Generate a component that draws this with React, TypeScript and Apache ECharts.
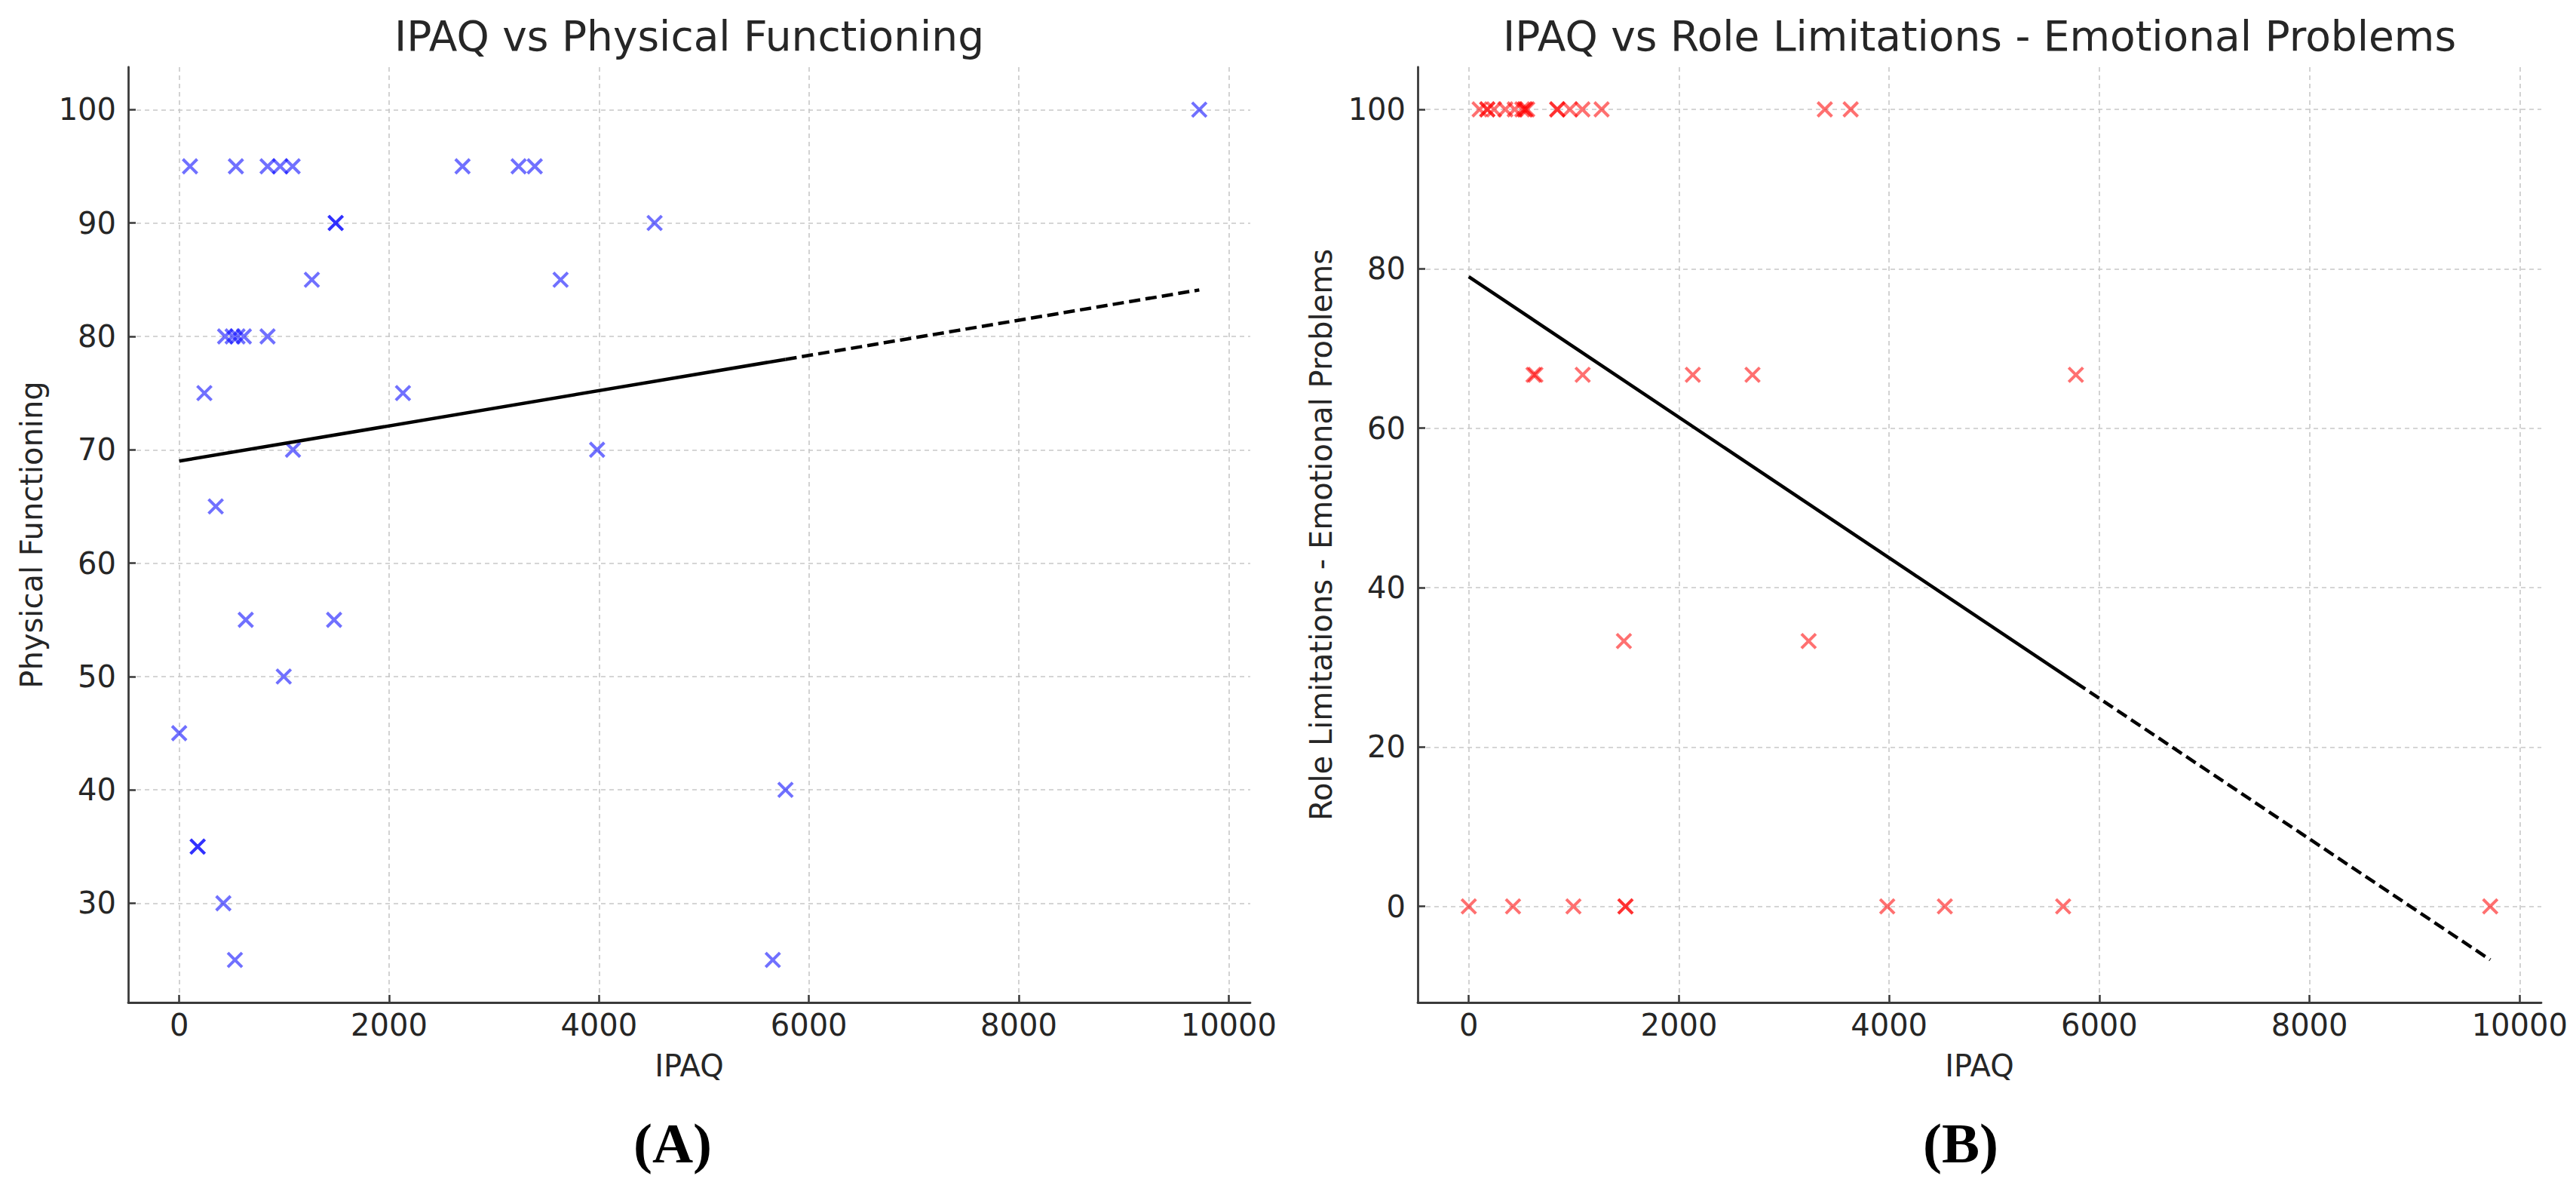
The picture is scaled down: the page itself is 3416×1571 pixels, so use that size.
import React, { useEffect, useRef } from "react";
import * as echarts from "echarts";

// IPAQ score of each participant (shared by both panels)
const ipaq = [0, 103, 176, 176, 240, 348, 421, 437, 509, 531, 540, 556, 616, 634, 842, 842, 962, 996, 1081, 1084, 1264, 1476, 1491, 1491, 2132, 2700, 3234, 3388, 3634, 3982, 4530, 5656, 5777, 9720];
// Panel A values
const physicalFunctioning = [45, 95, 35, 35, 75, 65, 30, 80, 80, 25, 95, 80, 80, 55, 95, 80, 95, 50, 95, 70, 85, 55, 90, 90, 75, 95, 95, 95, 85, 70, 90, 25, 40, 100];
// Panel B values
const roleEmotional = [0, 100, 100, 100, 100, 100, 0, 100, 100, 100, 100, 100, 66.7, 66.7, 100, 100, 100, 0, 100, 66.7, 100, 33.3, 0, 0, 66.7, 66.7, 33.3, 100, 100, 0, 0, 0, 66.7, 0];

// tick labels
const xTicks = [0, 2000, 4000, 6000, 8000, 10000];
const pfTicks = [30, 40, 50, 60, 70, 80, 90, 100];
const reTicks = [0, 20, 40, 60, 80, 100];

// fitted trend line values at the smallest and largest IPAQ
const pfTrendEnds = [69.0, 84.1];
const reTrendEnds = [79.0, -6.7];

const titles = ["IPAQ vs Physical Functioning", "IPAQ vs Role Limitations - Emotional Problems"];
const yNames = ["Physical Functioning", "Role Limitations - Emotional Problems"];
const xName = "IPAQ";
const panelLabels = ["(A)", "(B)"];

const XMARK = "path://M0,0L10,10M10,0L0,10";
const FONT = "DejaVu Sans";

function trendSegments(ends: number[]) {
  const sorted = [...ipaq].sort((a, b) => a - b);
  const x0 = sorted[0];
  const x1 = sorted[sorted.length - 2];
  const x2 = sorted[sorted.length - 1];
  const f = (x: number) => ends[0] + ((ends[1] - ends[0]) * (x - x0)) / (x2 - x0);
  return {
    solid: [[x0, f(x0)], [x1, f(x1)]],
    dashed: [[x1, f(x1)], [x2, f(x2)]],
  };
}

export default function App() {
  const ref = useRef<HTMLDivElement>(null);
  useEffect(() => {
    if (!ref.current) return;
    const chart = echarts.init(ref.current, undefined, { renderer: "svg" });
    const axisColor = "#3a3a3a";
    const gridLine = { show: true, lineStyle: { color: "#c8c8c8", width: 1.6, type: [6, 5] as any } };
    const plain = (v: number) => String(v);
    const mkX = (gi: number) => ({
      type: "value",
      gridIndex: gi,
      min: -486,
      max: 10206,
      axisLine: { show: true, onZero: false, lineStyle: { color: axisColor, width: 2.8 } },
      axisTick: { show: true, inside: true, length: 10, lineStyle: { color: axisColor, width: 2.5 }, customValues: xTicks },
      axisLabel: { customValues: xTicks, formatter: plain, margin: 10, fontSize: 40, fontFamily: FONT, color: "#262626" },
      splitLine: gridLine,
    });
    const mkY = (gi: number, min: number, max: number, ticks: number[]) => ({
      type: "value",
      gridIndex: gi,
      min,
      max,
      axisLine: { show: true, onZero: false, lineStyle: { color: axisColor, width: 2.8 } },
      axisTick: { show: true, inside: true, length: 10, lineStyle: { color: axisColor, width: 2.5 }, customValues: ticks },
      axisLabel: { customValues: ticks, formatter: plain, margin: 16, fontSize: 40, fontFamily: FONT, color: "#262626" },
      splitLine: gridLine,
    });
    const scatter = (gi: number, vals: number[], color: string) => ({
      type: "scatter",
      xAxisIndex: gi,
      yAxisIndex: gi,
      data: ipaq.map((x, i) => [x, vals[i]]),
      symbol: XMARK,
      symbolSize: 19,
      itemStyle: { color: "rgba(0,0,0,0)", borderColor: color, borderWidth: 4 },
      emphasis: { disabled: true },
      z: 2,
    });
    const lines = (gi: number, ends: number[]) => {
      const seg = trendSegments(ends);
      return [
        {
          type: "line", xAxisIndex: gi, yAxisIndex: gi, data: seg.solid, symbol: "none", showSymbol: false,
          lineStyle: { color: "#000", width: 4.5, type: "solid" }, z: 3, emphasis: { disabled: true },
        },
        {
          type: "line", xAxisIndex: gi, yAxisIndex: gi, data: seg.dashed, symbol: "none", showSymbol: false,
          lineStyle: { color: "#000", width: 4.5, type: [15, 7] }, z: 3, emphasis: { disabled: true },
        },
      ];
    };
    const txt = (text: string, x: number, y: number, size: number, extra: any = {}) => ({
      type: "text",
      x,
      y,
      ...extra,
      style: {
        text,
        fontSize: size,
        fontFamily: FONT,
        fill: "#262626",
        align: "center",
        verticalAlign: "middle",
      },
    });
    const panel = (text: string, x: number) => ({
      type: "text",
      x,
      y: 1515,
      style: {
        text,
        fontSize: 75,
        fontFamily: "Liberation Serif",
        fontWeight: "bold",
        fill: "#000",
        align: "center",
        verticalAlign: "middle",
      },
    });
    chart.setOption({
      animation: false,
      backgroundColor: "#ffffff",
      grid: [
        { left: 170, top: 89, width: 1488, height: 1240 },
        { left: 1880, top: 89, width: 1490, height: 1240 },
      ],
      xAxis: [mkX(0), mkX(1)],
      yAxis: [mkY(0, 21.25, 103.75, pfTicks), mkY(1, -12.05, 105.3, reTicks)],
      series: [
        scatter(0, physicalFunctioning, "rgba(0,0,255,0.7)"),
        ...lines(0, pfTrendEnds),
        scatter(1, roleEmotional, "rgba(255,0,0,0.7)"),
        ...lines(1, reTrendEnds),
      ],
      graphic: [
        txt(titles[0], 914, 48, 55),
        txt(titles[1], 2625, 48, 55),
        txt(xName, 914, 1413, 40),
        txt(xName, 2625, 1413, 40),
        txt(yNames[0], 42, 709, 40, { rotation: Math.PI / 2 }),
        txt(yNames[1], 1752, 709, 40, { rotation: Math.PI / 2 }),
        panel(panelLabels[0], 892),
        panel(panelLabels[1], 2600),
      ],
    });
    return () => chart.dispose();
  }, []);
  return <div ref={ref} style={{ position: "absolute", left: 0, top: 0, width: 3416, height: 1571 }} />;
}
